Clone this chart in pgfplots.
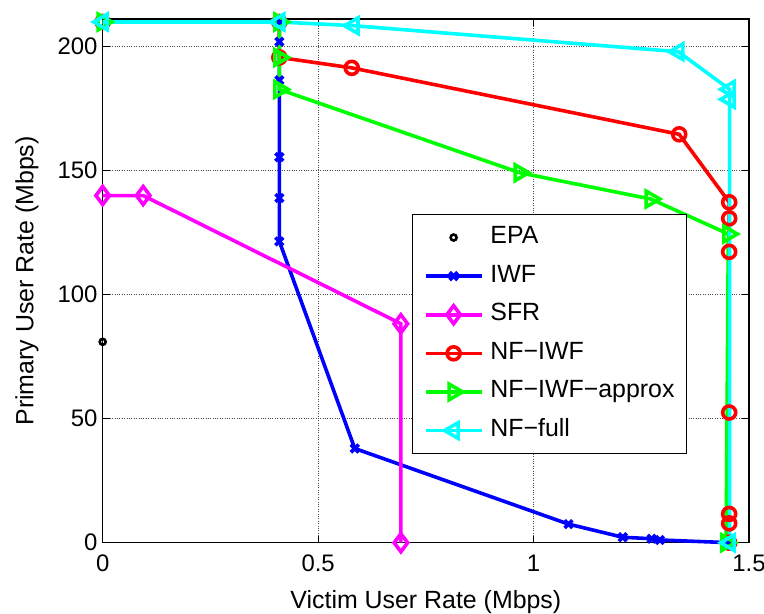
\documentclass[border=0pt]{standalone}
\usepackage{fontspec}
\setmainfont{Liberation Sans}
\usepackage{pgfplots}
\pgfplotsset{compat=1.18}
\definecolor{mblue}{rgb}{0,0,1}
\definecolor{mmag}{rgb}{1,0,1}
\definecolor{mred}{rgb}{1,0,0}
\definecolor{mgreen}{rgb}{0,1,0}
\definecolor{mcyan}{rgb}{0,1,1}
\begin{document}
\begin{tikzpicture}
\begin{axis}[
  scale only axis, width=646.3bp, height=523.7bp,
  xmin=0, xmax=1.5, ymin=0, ymax=211.2,
  xtick={0,0.5,1,1.5}, ytick={0,50,100,150,200},
  /pgf/number format/assume math mode=true,
  ticklabel style={font=\fontsize{24}{28}\selectfont},
  xticklabel style={anchor=base, yshift=-29bp},
  yticklabel style={inner xsep=5bp},
  xlabel={Victim User Rate (Mbps)},
  ylabel={Primary User Rate (Mbps)},
  every axis x label/.style={at={([yshift=-65.6bp]axis description cs:0.5,0)}, anchor=base, font=\fontsize{25}{30}\selectfont},
  every axis y label/.style={at={([xshift=-69.4bp]axis description cs:0,0.5)}, anchor=base, rotate=90, font=\fontsize{25}{30}\selectfont},
  grid=major, grid style={dotted, black!70, line width=0.8pt},
  axis line style={line width=1.4pt},
  tick align=inside, xtick pos=both, ytick pos=both,
  major tick length=7bp, tick style={line width=1pt, black},
  clip=false,
  legend style={at={(0.478,0.6276)}, anchor=north west, draw=black, line width=1pt,
    font=\fontsize{25}{30}\selectfont, inner xsep=11.7bp, inner ysep=12bp,
    nodes={inner sep=0pt, text height=17bp, text depth=5bp},
    row sep=16.6bp, column sep=7bp},
  legend cell align=left,
  legend image code/.code={\draw[mark repeat=2,mark phase=2] plot coordinates {(0bp,0bp)(28bp,0bp)(56bp,0bp)};},
]
\addplot[only marks, black, mark=o, mark size=3bp, line width=2.6pt] coordinates {(0,81)};
\addlegendentry{EPA}
\addplot[mblue, line width=3.6pt, mark=x, mark size=5.5bp, mark options={solid}] coordinates {
(0.41,210) (0.41,202) (0.41,186.5) (0.41,155.5) (0.41,139) (0.41,121.5) (0.585,38) (1.081,7.5) (1.207,2.2) (1.274,1.6) (1.293,1.1) (1.455,0)};
\addlegendentry{IWF}
\addplot[mmag, line width=3.6pt, mark=diamond, mark size=9bp, mark options={solid}] coordinates {
(0,140) (0.094,140) (0.692,88.3) (0.692,0)};
\addlegendentry{SFR}
\addplot[mred, line width=3.6pt, mark=o, mark size=6.5bp, mark options={solid}] coordinates {
(0,210) (0.41,210) (0.41,195.7) (0.578,191.5) (1.338,164.7) (1.454,137.3) (1.454,130.8) (1.454,117.3) (1.454,52.5) (1.454,11.6) (1.454,7.8) (1.454,0)};
\addlegendentry{NF−IWF}
\addplot[mgreen, line width=3.6pt, mark=triangle, mark size=9bp, mark options={solid, rotate=-90}] coordinates {
(0,210) (0.41,210) (0.41,195.7) (0.41,182.8) (0.968,149.2) (1.272,138.6) (1.452,124.5) (1.447,0)};
\addlegendentry{NF−IWF−approx}
\addplot[mcyan, line width=3.6pt, mark=triangle, mark size=9bp, mark options={solid, rotate=90}] coordinates {
(0,210) (0.41,210) (0.582,208.5) (1.336,198) (1.455,182.8) (1.455,178.8) (1.455,0)};
\addlegendentry{NF−full}
\end{axis}
\pgfresetboundingbox
\path ([xshift=-102.7bp,yshift=-71.3bp]current axis.south west) rectangle ([xshift=15bp,yshift=19bp]current axis.north east);
\end{tikzpicture}
\end{document}
